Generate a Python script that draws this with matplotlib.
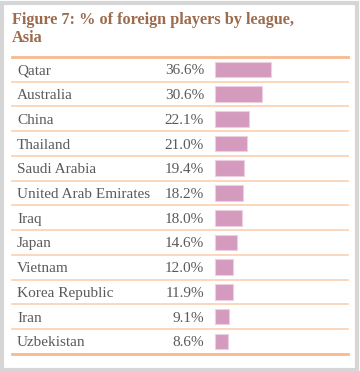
import matplotlib.pyplot as plt
from matplotlib.patches import Rectangle

leagues = ["Qatar", "Australia", "China", "Thailand", "Saudi Arabia",
           "United Arab Emirates", "Iraq", "Japan", "Vietnam",
           "Korea Republic", "Iran", "Uzbekistan"]
pct = [36.6, 30.6, 22.1, 21.0, 19.4, 18.2, 18.0, 14.6, 12.0, 11.9, 9.1, 8.6]

W, H = 360, 371
fig = plt.figure(figsize=(W / 100, H / 100), dpi=100)
plt.rcParams['font.family'] = ['Liberation Serif', 'DejaVu Serif']

# grey frame round the whole panel
fig.patches.append(Rectangle((1.5 / W, 1.5 / H), (W - 4.5) / W, (H - 4.5) / H,
                             transform=fig.transFigure, fill=False,
                             edgecolor="#d6d6d6", linewidth=3))

fig.text(12 / W, 1 - 12 / H, "Figure 7: % of foreign players by league,\nAsia",
         color="#9c6b4e", fontsize=11.7, fontweight="bold", va="top",
         ha="left", linespacing=1.15)

# table area in pixels
x0, x1 = 12, 348
y0, y1 = 57, 353.7
ax = fig.add_axes([x0 / W, 1 - y1 / H, (x1 - x0) / W, (y1 - y0) / H])
ax.set_axis_off()

px_per = 1.545
bar0 = 214.5
xmin = -(bar0 - x0) / px_per
xmax = xmin + (x1 - x0) / px_per
ax.set_xlim(xmin, xmax)
n = len(leagues)
ax.set_ylim(n - 0.5, -0.5)

ypos = list(range(n))
ax.barh(ypos, pct, height=0.63, left=0, color="#d49bbf",
        edgecolor="#ecd0e2", linewidth=0.8)

lab_x = xmin + 5 / px_per
val_x = xmin + (204 - x0) / px_per
for i, (name, v) in enumerate(zip(leagues, pct)):
    ax.text(lab_x, i, name, ha="left", va="center_baseline", fontsize=11,
            color="#5a5a5a")
    ax.text(val_x, i, f"{v:.1f}%", ha="right", va="center_baseline",
            fontsize=11, color="#5a5a5a")

for k in range(n + 1):
    edge = k in (0, n)
    ax.axhline(k - 0.5, color="#f7b98d" if edge else "#fbd3b6",
               linewidth=2 if edge else 1.3, clip_on=False)

fig.savefig("out.png", dpi=100, facecolor="white")
